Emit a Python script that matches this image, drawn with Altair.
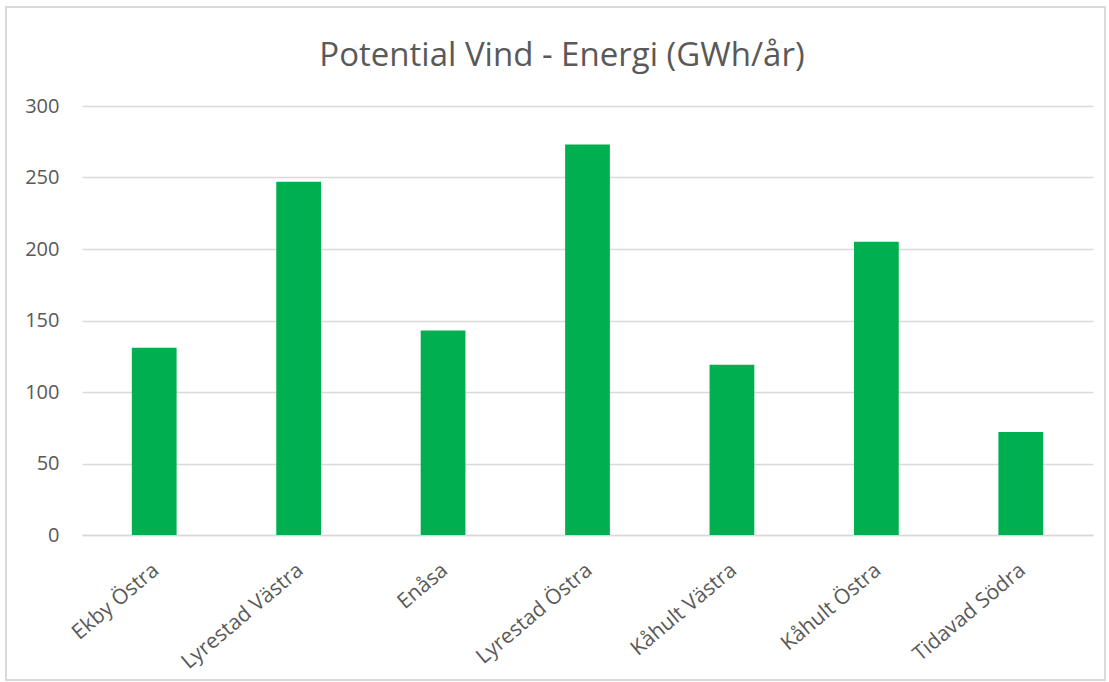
import altair as alt
import pandas as pd

categories = ["Ekby Östra", "Lyrestad Västra", "Enåsa", "Lyrestad Östra",
              "Kåhult Västra", "Kåhult Östra", "Tidavad Södra"]
values = [131, 247, 143, 273, 119, 205, 72]
title_text = "Potential Vind - Energi (GWh/år)"

df = pd.DataFrame({"Område": categories, "Energi": values})

FONT = "Open Sans"
GREY = "#595959"

bars = alt.Chart(df).mark_bar(color="#00b050").encode(
    x=alt.X("Område:N", sort=categories,
            scale=alt.Scale(paddingInner=0.69, paddingOuter=0.345),
            axis=alt.Axis(title=None, labelAngle=-40, ticks=False, labelPadding=24,
                          labelOffset=-5,
                          labelFontSize=21, labelColor=GREY, labelFont=FONT,
                          domainColor="#d9d9d9", domainWidth=1.3, labelOverlap=False)),
    y=alt.Y("Energi:Q", scale=alt.Scale(domain=[0, 300], nice=False),
            axis=alt.Axis(title=None, values=[0, 50, 100, 150, 200, 250, 300],
                          ticks=False, domain=False, labelPadding=23,
                          labelFontSize=20, labelColor=GREY, labelFont=FONT,
                          gridColor="#d9d9d9", gridWidth=1.3)),
)

border = alt.Chart(df).mark_rect(fill=None, stroke="#d9d9d9", strokeWidth=1.3, clip=False).encode(
    x=alt.value(-76), x2=alt.value(1023), y=alt.value(-99), y2=alt.value(574)
)

title = alt.Chart(pd.DataFrame({"t": [title_text]})).mark_text(
    font=FONT, fontSize=33, color=GREY, align="center", baseline="alphabetic", clip=False
).encode(text="t:N", x=alt.value(480), y=alt.value(-40))

chart = alt.layer(bars, border, title).properties(
    width=1011, height=429,
    padding={"left": 82, "top": 106, "right": 16, "bottom": 147},
    autosize=alt.AutoSizeParams(type="none"),
    background="white",
).configure_view(stroke=None)

chart.save("out.html", embed_options={"renderer": "svg", "actions": False})
